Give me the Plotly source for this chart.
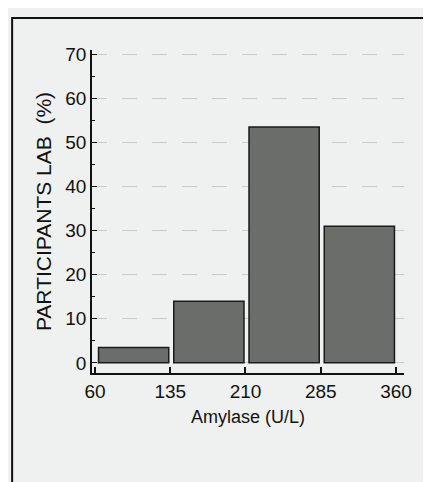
import plotly.graph_objects as go

# histogram of amylase results from participant labs
bin_edges = [60, 135, 210, 285, 360]
percent = [3.5, 14, 53.5, 31]
y_ticks = [0, 10, 20, 30, 40, 50, 60, 70]

centers = [(a + b) / 2 + 1 for a, b in zip(bin_edges[:-1], bin_edges[1:])]
widths = [(b - a) - 5 for a, b in zip(bin_edges[:-1], bin_edges[1:])]

BG = '#eff1f0'
FONT = 'Liberation Sans, Arial, sans-serif'

fig = go.Figure(go.Bar(
    x=centers, y=percent, width=widths,
    marker=dict(color='#6b6d6b', line=dict(color='#1a1a1a', width=1.5)),
    hoverinfo='y',
))

# outer frame of the figure panel (partly cut off at the right)
fig.add_shape(type='rect', xref='paper', yref='paper',
              x0=-0.256, x1=1.2, y0=-0.344, y1=1.099,
              line=dict(color='#111', width=2), fillcolor='rgba(0,0,0,0)',
              layer='below')

fig.update_layout(
    width=431, height=482,
    margin=dict(l=84, r=35, t=42, b=117),
    paper_bgcolor=BG, plot_bgcolor=BG,
    showlegend=False,
    font=dict(family=FONT, color='#111', size=19),
    xaxis=dict(
        range=[57, 368], tickvals=bin_edges,
        showline=True, linecolor='#111', linewidth=1.5,
        ticks='inside', ticklen=6, tickcolor='#111', tickwidth=1.5,
        showgrid=False, zeroline=False, automargin=False,
        tickfont=dict(size=19),
        title=dict(text='Amylase (U/L)', font=dict(size=18), standoff=10),
    ),
    yaxis=dict(
        range=[-2.3, 71], tickvals=y_ticks,
        showline=True, linecolor='#111', linewidth=1.5,
        ticks='inside', ticklen=5, tickcolor='#111', tickwidth=1.2,
        minor=dict(dtick=5, ticks='inside', ticklen=3, tickcolor='#111'),
        showgrid=True, gridcolor='#c9cbca', griddash='longdash', gridwidth=1,
        zeroline=False, automargin=False,
        tickfont=dict(size=19),
        title=dict(text='PARTICIPANTS LAB\u00a0\u00a0(%)', font=dict(size=21), standoff=8),
    ),
)

fig.write_html("out.html")
